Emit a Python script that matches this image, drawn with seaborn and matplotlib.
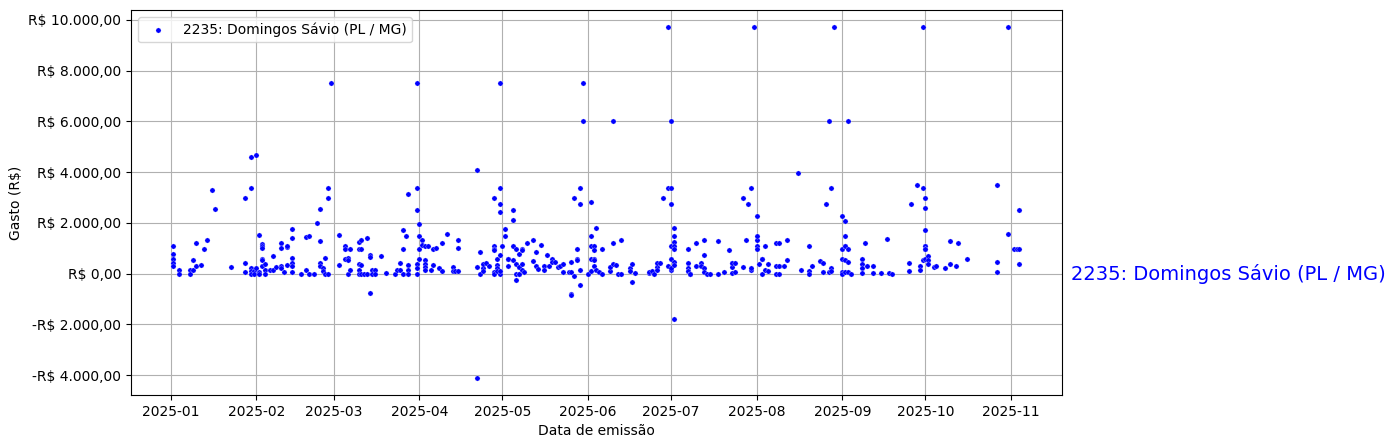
import matplotlib.pyplot as plt
import matplotlib.dates as mdates
from matplotlib.ticker import FuncFormatter
import pandas as pd
import seaborn as sns

deputado = "2235: Domingos Sávio (PL / MG)"

# (dia, valor em R$), um bloco por mês de 2025
janeiro = [(2, 1100), (2, 790), (2, 590), (2, 400), (2, 300), (4, 130), (4, 0),
           (8, 160), (8, 0), (9, 130), (9, 520), (10, 310), (10, 1220), (12, 350),
           (13, 980), (14, 1310), (16, 3300), (17, 2550), (23, 240), (28, 2990),
           (28, 430), (28, 80), (30, 3380), (30, 4610), (30, 210), (30, 100),
           (30, 0), (31, 100), (31, 0)]
fevereiro = [(1, 4690), (1, 200), (2, 1500), (2, 60), (2, 0), (3, 1150), (3, 1070),
             (3, 1000), (3, 590), (3, 520), (3, 290), (4, 390), (4, 130), (4, 0),
             (6, 130), (7, 680), (7, 130), (8, 260), (10, 1200), (10, 1000),
             (10, 300), (10, 220), (11, 60), (12, 1050), (12, 1090), (12, 350),
             (14, 1770), (14, 1410), (14, 630), (14, 420), (14, 310), (14, 60),
             (17, 0), (19, 160), (19, 1450), (20, 1490), (20, 0), (22, 0),
             (23, 2000), (24, 2550), (24, 1270), (24, 420), (24, 290), (25, 200),
             (25, 100), (26, 630), (26, 0), (27, 2990), (27, 3380), (27, 0),
             (28, 7500)]
marco = [(3, 1510), (3, 330), (5, 1070), (5, 980), (5, 590), (6, 630), (6, 0),
         (6, 520), (7, 980), (7, 160), (10, 1240), (10, 980), (10, 160), (10, 370),
         (10, 0), (11, 1340), (11, 980), (11, 330), (11, 0), (12, 0), (13, 1410),
         (13, 0), (14, 750), (14, 670), (14, -750), (15, 160), (15, 0), (16, 160),
         (16, 0), (18, 680), (20, 40), (23, 0), (24, 130), (25, 160), (25, 430),
         (26, 0), (26, 1730), (26, 980), (27, 1490), (28, 3120), (28, 330),
         (28, 160), (28, 0), (31, 3380), (31, 7500), (31, 2520), (31, 370),
         (31, 200), (31, 0)]
abril = [(1, 1940), (1, 590), (1, 1490), (1, 980), (2, 1310), (2, 1110), (3, 520),
         (3, 390), (3, 260), (3, 130), (3, 1100), (4, 1100), (5, 160), (6, 980),
         (6, 330), (7, 1020), (8, 200), (9, 1210), (9, 100), (11, 1570), (13, 260),
         (13, 100), (14, 100), (15, 1020), (15, 1340), (15, 100), (22, 240),
         (22, 4090), (22, -4100), (23, 0), (23, 830), (24, 200), (24, 390),
         (24, 100), (25, 430), (26, 310), (28, 60), (28, 2990), (28, 1070),
         (28, 980), (28, 920), (28, 0), (29, 590), (29, 330), (29, 200), (29, 100),
         (30, 0), (30, 3380), (30, 2750), (30, 2410), (30, 7500), (30, 100),
         (30, 720)]
maio = [(1, 1100), (2, 1770), (2, 1490), (3, 590), (3, 300), (3, 590), (5, 2520),
        (5, 2100), (5, 1100), (5, 520), (6, 980), (6, 390), (6, 0), (6, -260),
        (7, 790), (7, 260), (7, 0), (7, 260), (7, 0), (8, 980), (8, 920), (8, 160),
        (8, 390), (9, 60), (10, 1220), (12, 480), (12, 1340), (13, 300), (13, 830),
        (14, 170), (15, 1140), (16, 300), (16, 130), (17, 750), (18, 300),
        (19, 590), (19, 460), (20, 460), (21, 260), (22, 300), (23, 370), (23, 60),
        (25, 60), (26, 60), (26, -790), (26, -860), (26, 460), (27, -100),
        (27, 2990), (28, 960), (28, 590), (28, 520), (29, 2750), (29, 130),
        (29, -460), (29, 3380), (30, 7500), (30, 6000)]
junho = [(1, 0), (2, 2800), (2, 1490), (2, 1100), (2, 590), (2, 100), (3, 1100),
         (3, 590), (3, 300), (3, 920), (3, 520), (4, 1810), (4, 160), (5, 60),
         (6, 980), (6, 0), (9, 100), (9, 260), (10, 1220), (10, 390), (10, 6000),
         (11, 330), (12, 0), (13, 1340), (13, 0), (16, 200), (16, 100), (17, 370),
         (17, -330), (18, 30), (23, 30), (23, 60), (24, 100), (25, 0), (26, 260),
         (26, 430), (26, 130), (27, 430), (28, 2990), (30, 3380), (30, 300),
         (30, 9700)]
julho = [(1, 3380), (1, 2750), (1, 1070), (1, 590), (1, 130), (1, 200), (1, 6000),
         (2, 1490), (2, 1810), (2, 1250), (2, 1070), (2, 460), (2, 330), (2, 980),
         (2, -1800), (7, 980), (7, 430), (7, 200), (7, 100), (7, 100), (8, 0),
         (8, 0), (10, 1220), (10, 300), (12, 430), (12, 300), (13, 1340), (13, 200),
         (13, 60), (13, 750), (14, 0), (15, 0), (18, 1270), (18, 0), (20, 60),
         (22, 920), (23, 430), (23, 260), (23, 30), (23, 430), (24, 430), (24, 60),
         (27, 2990), (27, 260), (28, 1310), (29, 2750), (30, 160), (30, 200),
         (30, 3380), (31, 9700)]
agosto = [(1, 2250), (1, 1340), (1, 1070), (1, 980), (1, 1490), (2, 370), (3, 560),
          (3, 560), (3, 0), (4, 1100), (4, 130), (5, 100), (5, 390), (8, 0),
          (8, 1220), (8, 300), (9, 0), (9, 1220), (9, 300), (11, 300), (12, 1340),
          (12, 550), (16, 3980), (17, 130), (20, 1100), (20, 100), (20, 0),
          (21, 300), (24, 480), (25, 420), (25, 60), (26, 2750), (27, 60),
          (27, 6000), (28, 3380), (28, 200), (28, 100), (29, 9700)]
setembro = [(1, 2280), (1, 980), (1, 590), (1, 60), (1, 0), (2, 2060), (2, 1490),
            (2, 1070), (2, 520), (2, 60), (2, 1070), (3, 460), (3, 60), (3, 980),
            (3, 6000), (4, 0), (8, 590), (8, 390), (8, 200), (8, 40), (9, 1220),
            (10, 300), (12, 300), (12, 40), (15, 40), (17, 1380), (18, 40), (19, 0),
            (25, 430), (25, 90), (26, 2750), (28, 3500), (29, 300), (29, 160),
            (30, 3380), (30, 520), (30, 9700)]
outubro = [(1, 590), (1, 2990), (1, 2600), (1, 1700), (1, 1070), (1, 1070),
           (1, 980), (1, 980), (2, 680), (2, 520), (2, 370), (4, 260), (5, 290),
           (8, 200), (10, 1270), (10, 390), (12, 310), (13, 1220), (16, 590),
           (27, 3500), (27, 470), (27, 80), (31, 1570), (31, 9700)]
novembro = [(2, 980), (3, 980), (4, 2520), (4, 980), (4, 390)]

meses = [janeiro, fevereiro, marco, abril, maio, junho, julho, agosto,
         setembro, outubro, novembro]

linhas = []
for m, pontos in enumerate(meses, start=1):
    for dia, valor in pontos:
        linhas.append({"data": pd.Timestamp(2025, m, dia), "valor": valor})
df = pd.DataFrame(linhas)


def reais(v, pos):
    s = f"{abs(v):,.2f}".replace(",", "X").replace(".", ",").replace("X", ".")
    return ("-R$ " if v < 0 else "R$ ") + s


fig = plt.figure(figsize=(13.95, 4.48), dpi=100)
ax = fig.add_axes([0.094, 0.118, 0.667, 0.86])
sns.scatterplot(data=df, x="data", y="valor", color="blue", s=14,
                linewidth=0.2, edgecolor="white", label=deputado, ax=ax)

ax.xaxis.set_major_locator(mdates.MonthLocator())
ax.xaxis.set_major_formatter(mdates.DateFormatter("%Y-%m"))
ax.yaxis.set_major_formatter(FuncFormatter(reais))
ax.set_yticks(range(-4000, 10001, 2000))
ax.grid(True)
ax.set_axisbelow(True)
ax.set_xlabel("Data de emissão")
ax.set_ylabel("Gasto (R$)")
ax.legend(loc="upper left")

ax.text(1.01, 0, deputado, transform=ax.get_yaxis_transform(),
        color="blue", fontsize=14, va="center", ha="left")

fig.savefig("out.png", dpi=100)
